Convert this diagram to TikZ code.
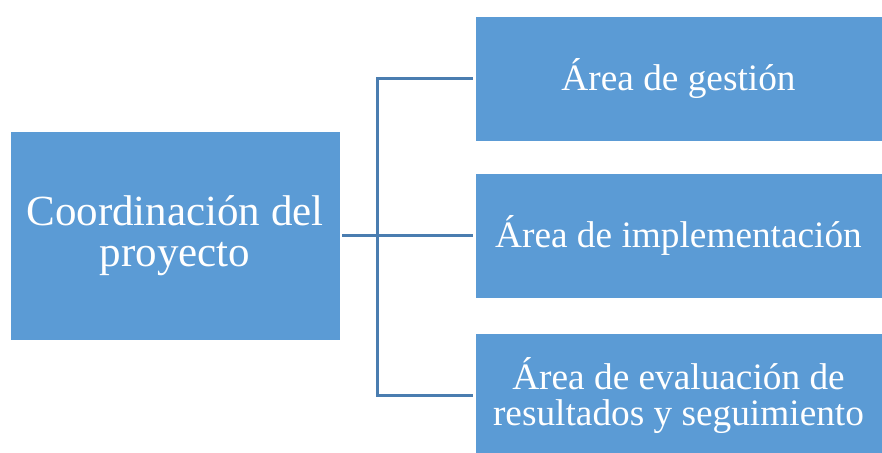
\documentclass[tikz,border=0pt]{standalone}
\usepackage{fontspec}
\setmainfont{Liberation Serif}
\definecolor{boxblue}{HTML}{5B9BD5}
\definecolor{linkblue}{HTML}{4A7DB0}
\begin{document}
\begin{tikzpicture}[x=1pt,y=-1pt,
  box/.style={fill=boxblue,draw=white,line width=0.8pt,text=white,align=center,inner sep=0pt},
  bigbox/.style={box,minimum width=330pt,minimum height=209pt,font=\fontsize{43}{40.5}\selectfont},
  areabox/.style={box,minimum width=407pt,minimum height=125pt,font=\fontsize{37.3}{36.5}\selectfont},
  link/.style={draw=linkblue,line width=3pt}]
\clip (0,0) rectangle (882,452);
\fill[white] (0,0) rectangle (882,452);
\node[bigbox] (coord) at (175,235.5) {Coordinación del\\proyecto};
\node[areabox] (a1) at (678.5,78.5) {Área de gestión};
\node[areabox] (a2) at (678.5,235.5) {Área de implementación};
\node[areabox] (a3) at (678.5,395.5) {Área de evaluación de\\resultados y seguimiento};
\coordinate (j) at (377,235.5);
\draw[link] ([xshift=2pt]coord.east) -- ([xshift=-2pt]a2.west);
\draw[link] ([xshift=-2pt]a1.west) -| (j) |- ([xshift=-2pt]a3.west);
\end{tikzpicture}
\end{document}
